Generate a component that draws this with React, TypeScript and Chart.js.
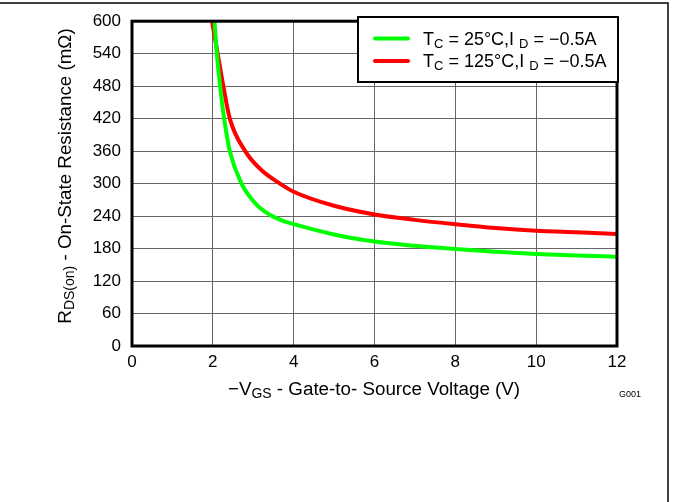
import React, { useEffect, useRef } from "react";
import { Chart, registerables } from "chart.js";
Chart.register(...registerables);

// Data
const vgs25 = [2.04, 2.1, 2.18, 2.28, 2.42, 2.71, 3.0, 3.2, 3.42, 3.7, 4, 5, 6, 7, 8, 9, 10, 11, 12];
const r25 = [600, 540, 480, 420, 360, 300, 268, 253, 242, 232, 225, 206, 193, 185, 179, 174, 170, 167, 165];
const vgs125 = [1.98, 2.12, 2.26, 2.42, 2.8, 3.2, 3.66, 4, 5, 6, 7, 8, 9, 10, 11, 12];
const r125 = [600, 540, 480, 420, 360, 325, 300, 285, 259, 243, 233, 225, 218, 213, 210, 207];

const xMin = 0, xMax = 12, xStep = 2;
const yMin = 0, yMax = 600, yStep = 60;

const legend25 = [{ t: "T" }, { t: "C", sub: true }, { t: " = 25°C,I " }, { t: "D", sub: true }, { t: " = \u22120.5A" }];
const legend125 = [{ t: "T" }, { t: "C", sub: true }, { t: " = 125°C,I " }, { t: "D", sub: true }, { t: " = \u22120.5A" }];
const xTitle = [{ t: "\u2212V" }, { t: "GS", sub: true }, { t: " - Gate-to- Source Voltage (V)" }];
const yTitle = [{ t: "R" }, { t: "DS(on)", sub: true }, { t: " - On-State Resistance (m\u03A9)" }];
const figId = "G001";

const FONT = "'Liberation Sans', Arial, sans-serif";

type Part = { t: string; sub?: boolean };

function drawRich(ctx: CanvasRenderingContext2D, parts: Part[], x: number, y: number, align: "left" | "center", size: number) {
  const subSize = Math.round(size * 0.72);
  let w = 0;
  for (const p of parts) {
    ctx.font = `${p.sub ? subSize : size}px ${FONT}`;
    w += ctx.measureText(p.t).width;
  }
  let cx = align === "center" ? x - w / 2 : x;
  ctx.textBaseline = "alphabetic";
  ctx.textAlign = "left";
  for (const p of parts) {
    ctx.font = `${p.sub ? subSize : size}px ${FONT}`;
    ctx.fillText(p.t, cx, y + (p.sub ? 3 : 0));
    cx += ctx.measureText(p.t).width;
  }
}

const decor = {
  id: "decor",
  afterDraw(chart: any) {
    const ctx: CanvasRenderingContext2D = chart.ctx;
    const a = chart.chartArea;
    ctx.save();
    // plot frame
    ctx.strokeStyle = "#000";
    ctx.lineWidth = 3;
    ctx.strokeRect(a.left, a.top, a.right - a.left, a.bottom - a.top);
    // legend box
    const lx = 358, ly = 17, lw = 260, lh = 65;
    ctx.fillStyle = "#fff";
    ctx.fillRect(lx, ly, lw, lh);
    ctx.lineWidth = 2;
    ctx.strokeRect(lx, ly, lw, lh);
    const rows = [
      { c: "#00ff00", y: 38.5, base: 45, parts: legend25 },
      { c: "#ff0000", y: 61, base: 67, parts: legend125 },
    ];
    for (const r of rows) {
      ctx.strokeStyle = r.c;
      ctx.lineWidth = 4;
      ctx.lineCap = "round";
      ctx.beginPath();
      ctx.moveTo(375, r.y);
      ctx.lineTo(408, r.y);
      ctx.stroke();
      ctx.fillStyle = "#000";
      drawRich(ctx, r.parts, 423, r.base, "left", 18);
    }
    // axis titles
    ctx.fillStyle = "#000";
    drawRich(ctx, xTitle, 374, 395, "center", 18.8);
    ctx.save();
    ctx.translate(71, 176);
    ctx.rotate(-Math.PI / 2);
    drawRich(ctx, yTitle, 0, 0, "center", 18.8);
    ctx.restore();
    // figure id
    ctx.font = `9px ${FONT}`;
    ctx.textAlign = "left";
    ctx.fillText(figId, 619, 397);
    // outer page border (top and right)
    ctx.strokeStyle = "#000";
    ctx.lineWidth = 1.5;
    ctx.lineCap = "butt";
    ctx.beginPath();
    ctx.moveTo(0, 3);
    ctx.lineTo(668, 3);
    ctx.lineTo(668, 502);
    ctx.stroke();
    ctx.restore();
  },
};

export default function App() {
  const ref = useRef<HTMLCanvasElement>(null);
  useEffect(() => {
    const chart = new Chart(ref.current!, {
      type: "scatter",
      data: {
        datasets: [
          {
            data: vgs25.map((v, i) => ({ x: v, y: r25[i] })),
            borderColor: "#00ff00",
            borderWidth: 4,
            showLine: true,
            pointRadius: 0,
            cubicInterpolationMode: "monotone",
          },
          {
            data: vgs125.map((v, i) => ({ x: v, y: r125[i] })),
            borderColor: "#ff0000",
            borderWidth: 4,
            showLine: true,
            pointRadius: 0,
            cubicInterpolationMode: "monotone",
          },
        ],
      },
      options: {
        animation: false,
        responsive: false,
        devicePixelRatio: 1,
        layout: { padding: { left: 0, top: 17, right: 56, bottom: 0 } },
        plugins: { legend: { display: false }, tooltip: { enabled: false } },
        scales: {
          x: {
            type: "linear",
            min: xMin,
            max: xMax,
            ticks: { stepSize: xStep, color: "#000", font: { family: FONT, size: 17 }, padding: 6 },
            grid: { color: "#666", lineWidth: 1, drawTicks: false },
            border: { display: false },
            afterFit: (s: any) => { s.height = 156; },
          },
          y: {
            type: "linear",
            min: yMin,
            max: yMax,
            ticks: { stepSize: yStep, color: "#000", font: { family: FONT, size: 17 }, padding: 11 },
            grid: { color: "#666", lineWidth: 1, drawTicks: false },
            border: { display: false },
            afterFit: (s: any) => { s.width = 132; },
          },
        },
      },
      plugins: [decor],
    } as any);
    return () => chart.destroy();
  }, []);
  return (
    <div style={{ position: "absolute", left: 0, top: 0, width: 673, height: 502, background: "#fff" }}>
      <canvas ref={ref} width={673} height={502} style={{ width: 673, height: 502, display: "block" }} />
    </div>
  );
}
